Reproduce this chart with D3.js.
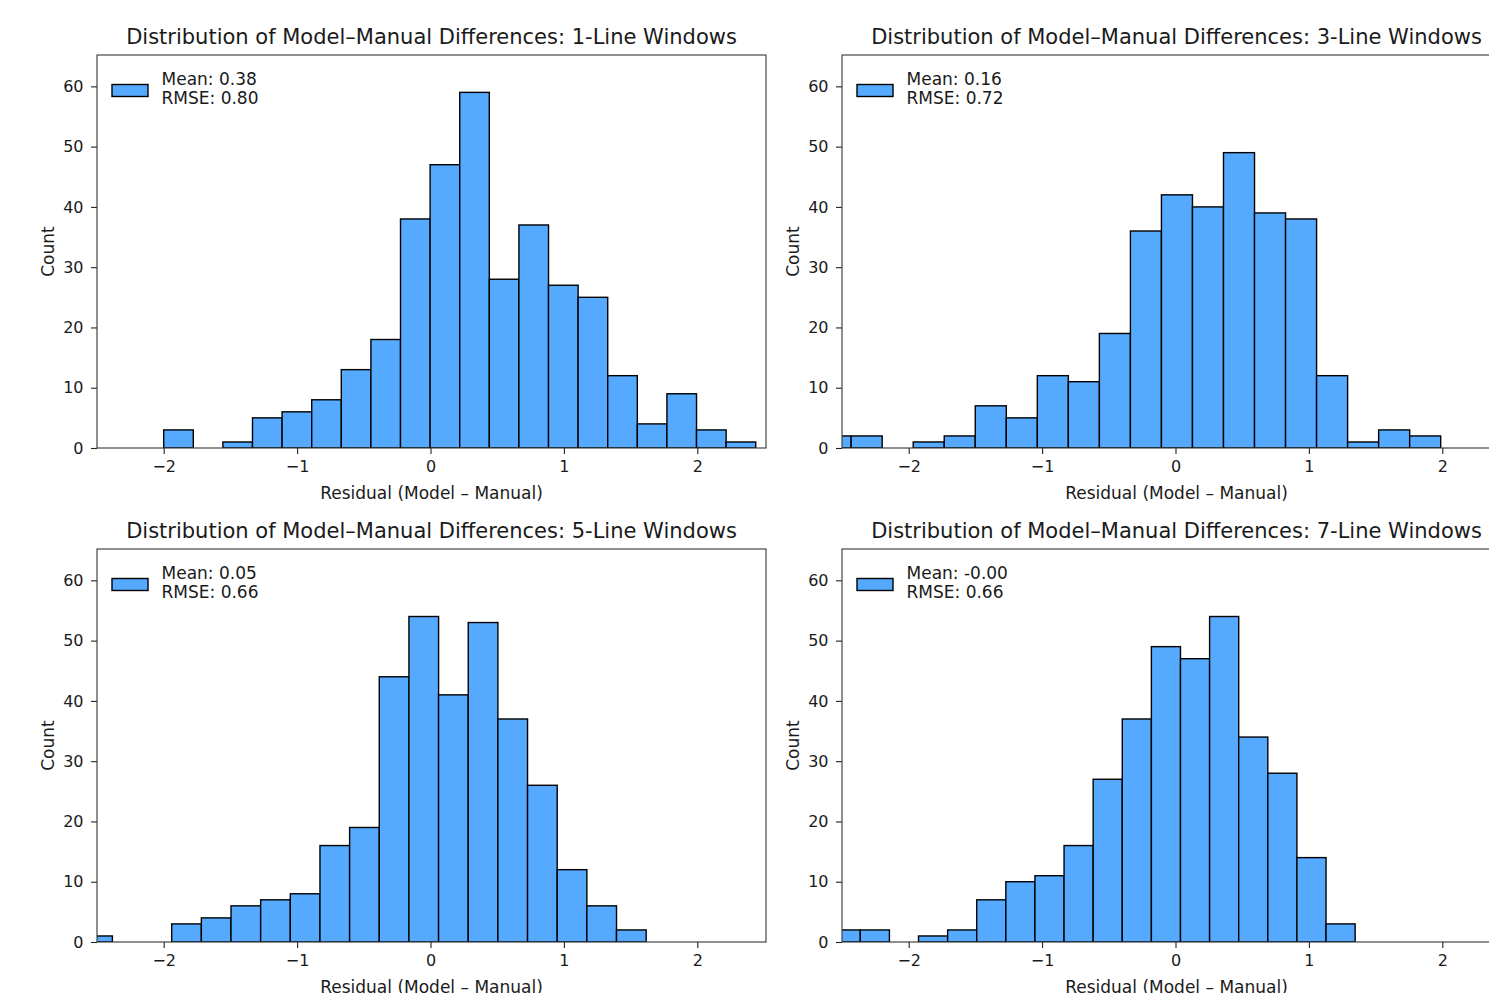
<!DOCTYPE html>
<html>
<head>
<meta charset="utf-8">
<script src="https://cdn.jsdelivr.net/npm/d3@7"></script>
<style>
  body { margin: 0; background: #fff; }
  text { font-family: "DejaVu Sans", sans-serif; fill: #1a1a1a; }
</style>
</head>
<body>
<svg id="canvas" width="1489" height="993"></svg>
<script>
"use strict";

const windows = ["1-Line", "3-Line", "5-Line", "7-Line"];
const means = ["0.38", "0.16", "0.05", "-0.00"];
const rmses = ["0.80", "0.72", "0.66", "0.66"];

// first bin edge and bin width for each histogram
const binStarts = [-2.0, -2.664, -2.607, -2.581];
const binWidths = [0.2219, 0.2326, 0.2223, 0.2182];

const counts1 = [3, 0, 1, 5, 6, 8, 13, 18, 38, 47, 59, 28, 37, 27, 25, 12, 4, 9, 3, 1];
const counts3 = [2, 2, 0, 1, 2, 7, 5, 12, 11, 19, 36, 42, 40, 49, 39, 38, 12, 1, 3, 2];
const counts5 = [1, 0, 0, 3, 4, 6, 7, 8, 16, 19, 44, 54, 41, 53, 37, 26, 12, 6, 2];
const counts7 = [2, 2, 0, 1, 2, 7, 10, 11, 16, 27, 37, 49, 47, 54, 34, 28, 14, 3];
const allCounts = [counts1, counts3, counts5, counts7];

const xTicks = [-2, -1, 0, 1, 2];
const yTicks = [0, 10, 20, 30, 40, 50, 60];

const barColor = "#55aaff";
const panelW = 669, panelH = 393;
const origins = [[97, 55], [842, 55], [97, 549], [842, 549]];

const svg = d3.select("#canvas");
const fmt = d => d < 0 ? "\u2212" + Math.abs(d) : String(d);

const x = d3.scaleLinear().domain([-2.5, 2.515]).range([0, panelW]);
const y = d3.scaleLinear().domain([0, 65.2]).range([panelH, 0]);

allCounts.forEach((counts, i) => {
    const [ox, oy] = origins[i];
    const g = svg.append("g").attr("transform", `translate(${ox},${oy})`);

    g.append("clipPath").attr("id", "clip" + i)
        .append("rect").attr("width", panelW).attr("height", panelH);

    const bins = counts.map((c, k) => ({
        x0: binStarts[i] + k * binWidths[i],
        x1: binStarts[i] + (k + 1) * binWidths[i],
        c: c
    })).filter(b => b.c > 0);

    g.append("g").attr("clip-path", `url(#clip${i})`)
        .selectAll("rect")
        .data(bins)
        .enter()
        .append("rect")
        .attr("x", d => x(d.x0))
        .attr("y", d => y(d.c))
        .attr("width", d => x(d.x1) - x(d.x0))
        .attr("height", d => y(0) - y(d.c))
        .attr("fill", barColor)
        .attr("stroke", "#000")
        .attr("stroke-width", 1.4);

    // axes
    const xAxis = d3.axisBottom(x).tickValues(xTicks).tickFormat(fmt).tickSize(6).tickPadding(7);
    const yAxis = d3.axisLeft(y).tickValues(yTicks).tickSize(6).tickPadding(7.5);
    const gx = g.append("g").attr("transform", `translate(0,${panelH})`).call(xAxis);
    const gy = g.append("g").call(yAxis);
    [gx, gy].forEach(a => {
        a.select(".domain").remove();
        a.selectAll("line").attr("stroke", "#222").attr("stroke-width", 1.1);
        a.selectAll("text").style("font-size", "16px").attr("fill", "#1a1a1a");
    });

    g.append("rect")
        .attr("width", panelW).attr("height", panelH)
        .attr("fill", "none").attr("stroke", "#333").attr("stroke-width", 1.1);

    g.append("text")
        .attr("x", panelW / 2).attr("y", -11)
        .attr("text-anchor", "middle")
        .style("font-size", "21px")
        .text(`Distribution of Model\u2013Manual Differences: ${windows[i]} Windows`);

    g.append("text")
        .attr("x", panelW / 2).attr("y", panelH + 51)
        .attr("text-anchor", "middle")
        .style("font-size", "17px")
        .text("Residual (Model \u2013 Manual)");

    g.append("text")
        .attr("transform", `translate(${-43},${panelH / 2}) rotate(-90)`)
        .attr("text-anchor", "middle")
        .style("font-size", "17px")
        .text("Count");

    // legend
    g.append("rect")
        .attr("x", 15).attr("y", 29.5).attr("width", 36).attr("height", 12)
        .attr("fill", barColor).attr("stroke", "#000").attr("stroke-width", 1.4);
    g.append("text").attr("x", 64.5).attr("y", 30).style("font-size", "17px")
        .text(`Mean: ${means[i]}`);
    g.append("text").attr("x", 64.5).attr("y", 49).style("font-size", "17px")
        .text(`RMSE: ${rmses[i]}`);
});
</script>
</body>
</html>
